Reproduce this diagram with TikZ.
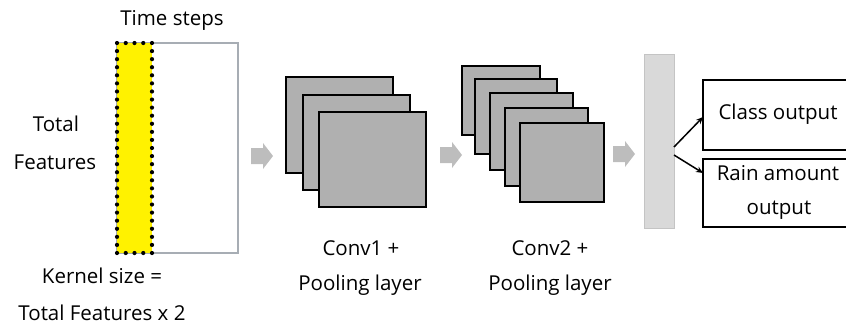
\documentclass[tikz,border=0pt]{standalone}
\usepackage{fontspec}
\setmainfont{Open Sans}
\usetikzlibrary{arrows.meta}
\definecolor{convfill}{HTML}{B0B0B0}
\definecolor{framegray}{HTML}{A7ADB4}
\definecolor{arrowgray}{HTML}{BDBDBD}
\definecolor{barfill}{HTML}{D9D9D9}
\definecolor{baredge}{HTML}{C4C4C4}
\tikzset{
  lbl/.style={font=\fontsize{20.5}{20.5}\selectfont, inner sep=0pt, anchor=center},
  convsheet/.style={draw=black, fill=convfill, line width=2.8pt},
  outbox/.style={draw=black, fill=white, line width=2pt},
  blockarrow/.style={fill=arrowgray, draw=none},
  kdot/.style={fill=black, draw=none},
  outarrow/.style={draw=black, line width=1.5pt, -{Stealth[length=7pt,width=6pt]}}
}
\begin{document}
\begin{tikzpicture}[x=1pt,y=-1pt]
\useasboundingbox (0,0) rectangle (846,325);
\begin{scope}
\clip (0,0) rectangle (846,325);
% input frame
\draw[framegray, line width=2.6pt] (117,43) rectangle (238,253);
\fill[yellow] (117,43) rectangle (152,253);
% dotted kernel border
\foreach \k in {0,...,4}{
  \fill[kdot] (117+\k*8.75,43) circle (2.1pt);
  \fill[kdot] (117+\k*8.75,253) circle (2.1pt);
}
\foreach \k in {1,...,25}{
  \fill[kdot] (117,43+\k*8.077) circle (2.1pt);
  \fill[kdot] (152,43+\k*8.077) circle (2.1pt);
}

% texts
\node[lbl] (time) at (172,20) {Time steps};
\node[lbl] (total) at (56,124) {Total};
\node[lbl] (feat) at (55,162) {Features};
\node[lbl] (ks1) at (102,276) {Kernel size =};
\node[lbl] (ks2) at (102,313) {Total Features x 2};

% block arrows
\foreach \x/\y [count=\i] in {251/156, 440/155, 613/154}{
  \fill[blockarrow] (\x,\y-8) -- (\x+12,\y-8) -- (\x+12,\y-13) -- (\x+22,\y) -- (\x+12,\y+13) -- (\x+12,\y+8) -- (\x,\y+8) -- cycle;
}

% conv1
\draw[convsheet] (286,77) rectangle (393,173);
\draw[convsheet] (303,95) rectangle (410,190);
\draw[convsheet] (319,112) rectangle (426,207);
\node[lbl] (c1a) at (361,248) {Conv1 +};
\node[lbl] (c1b) at (360,285) {Pooling layer};

% conv2
\draw[convsheet] (462,66) rectangle (540,135);
\draw[convsheet] (475,79) rectangle (557,154);
\draw[convsheet] (490,93) rectangle (573,170);
\draw[convsheet] (505,108) rectangle (588,186);
\draw[convsheet] (520,123) rectangle (604,202);
\node[lbl] (c2a) at (550,248) {Conv2 +};
\node[lbl] (c2b) at (550,285) {Pooling layer};

% dense bar
\draw[fill=barfill, draw=baredge, line width=1pt] (644,54) rectangle (674,228);
\coordinate (barA) at (674,147);
\coordinate (barB) at (674,155);

% outputs
\draw[outbox] (703,80) rectangle (860,150);
\draw[outbox] (703,159) rectangle (860,227);
\coordinate (clsin) at (703,117);
\coordinate (rainin) at (703,173);
\node[lbl] (cls) at (778,114) {Class output};
\node[lbl] (rain1) at (778,173) {Rain amount};
\node[lbl] (rain2) at (779,210) {output};

\draw[outarrow] (barA) -- (clsin);
\draw[outarrow] (barB) -- (rainin);
\end{scope}
\end{tikzpicture}
\end{document}
